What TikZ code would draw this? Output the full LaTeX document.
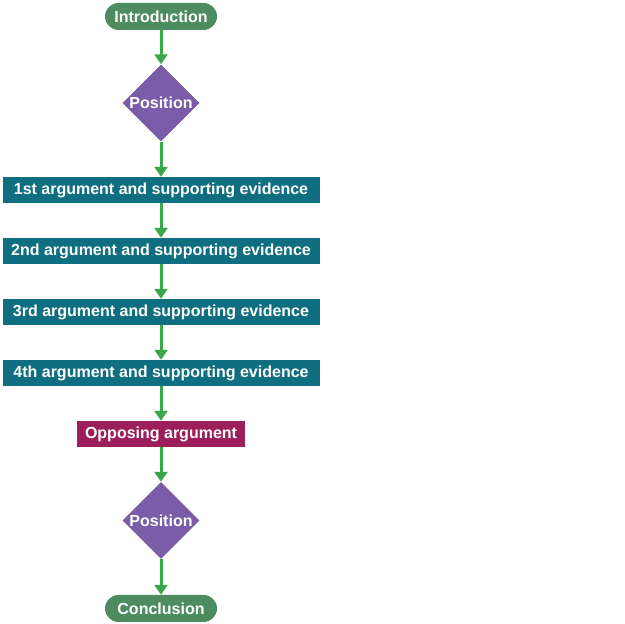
\documentclass[tikz,border=0pt]{standalone}
\usepackage{fontspec}
\setmainfont{Liberation Sans}
\usetikzlibrary{arrows.meta,shapes.geometric}
\definecolor{endgreen}{HTML}{4C8C60}
\definecolor{posviolet}{HTML}{7B5CA8}
\definecolor{argteal}{HTML}{0F6F80}
\definecolor{oppred}{HTML}{9C1F5C}
\definecolor{linkgreen}{HTML}{3AA84A}
\tikzset{
  lbl/.style={text=white,font=\fontsize{16}{19}\selectfont\bfseries,inner sep=0pt},
  pill/.style={lbl,fill=endgreen,rounded corners=13.5pt,minimum width=112pt,minimum height=27pt},
  posdiam/.style={lbl,diamond,fill=posviolet,minimum width=77pt,minimum height=77pt},
  argbox/.style={lbl,fill=argteal,minimum width=317pt,minimum height=26pt},
  oppbox/.style={lbl,fill=oppred,minimum width=168pt,minimum height=26pt},
  link/.style={draw=linkgreen,line width=3pt,-{Triangle[width=13pt,length=10pt]}}
}

\begin{document}
\begin{tikzpicture}[x=1pt,y=1pt]
\useasboundingbox (0,0) rectangle (624,624);
%start
\node [pill] (intro) at (161,607.5) {Introduction};
\node [posdiam] (posA) at (161,521) {Position};
%arguments
\node [argbox] (argA) at (161,434) {1st argument and supporting evidence};
\node [argbox] (argB) at (161,373) {2nd argument and supporting evidence};
\node [argbox] (argC) at (161,312) {3rd argument and supporting evidence};
\node [argbox] (argD) at (161,251) {4th argument and supporting evidence};
\node [oppbox] (opp) at (161,190) {Opposing argument};
%end
\node [posdiam] (posB) at (161,103.5) {Position};
\node [pill] (concl) at (161,15.5) {Conclusion};
%links
\draw [link] (intro) -- (posA);
\draw [link] (posA) -- (argA);
\draw [link] (argA) -- (argB);
\draw [link] (argB) -- (argC);
\draw [link] (argC) -- (argD);
\draw [link] (argD) -- (opp);
\draw [link] (opp) -- (posB);
\draw [link] (posB) -- (concl);
\end{tikzpicture}
\end{document}
